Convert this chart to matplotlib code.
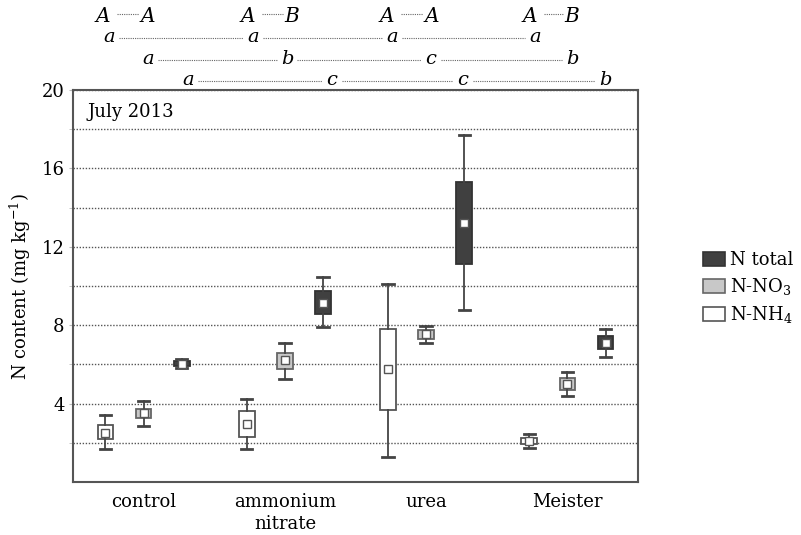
import numpy as np
import matplotlib
matplotlib.use("Agg")
import matplotlib.pyplot as plt
from matplotlib.patches import Patch

plt.rcParams["font.family"] = ["DejaVu Serif"]
plt.rcParams["mathtext.fontset"] = "dejavuserif"

# data
groups = ["control", "ammonium\nnitrate", "urea", "Meister"]
series = ["N-NH$_4$", "N-NO$_3$", "N total"]

nh4_low = [1.7, 1.7, 1.3, 1.75]
nh4_q1 = [2.2, 2.3, 3.65, 1.93]
nh4_mean = [2.5, 2.95, 5.75, 2.1]
nh4_q3 = [2.9, 3.6, 7.8, 2.27]
nh4_high = [3.4, 4.25, 10.1, 2.45]

no3_low = [2.85, 5.25, 7.1, 4.4]
no3_q1 = [3.25, 5.75, 7.3, 4.7]
no3_mean = [3.5, 6.2, 7.55, 5.0]
no3_q3 = [3.7, 6.6, 7.75, 5.3]
no3_high = [4.15, 7.1, 7.95, 5.6]

tot_low = [5.8, 7.9, 8.8, 6.4]
tot_q1 = [5.9, 8.55, 11.1, 6.8]
tot_mean = [6.0, 9.15, 13.2, 7.1]
tot_q3 = [6.15, 9.75, 15.3, 7.45]
tot_high = [6.3, 10.45, 17.7, 7.8]

# significance letters above the plot
row1_letters = [["A", "A"], ["A", "B"], ["A", "A"], ["A", "B"]]
row2_letters = ["a", "a", "a", "a"]
row3_letters = ["a", "b", "c", "b"]
row4_letters = ["a", "c", "c", "b"]

W, H = 801, 535
fig = plt.figure(figsize=(W / 100, H / 100), dpi=100)
ax = fig.add_axes([73 / W, 1 - 482 / H, (638 - 73) / W, (482 - 90) / H])

fills = ["white", "#c8c8c8", "#404040"]
edges = ["#555555", "#666666", "#333333"]
offsets = [-0.27, 0.0, 0.27]
lows = [nh4_low, no3_low, tot_low]
q1s = [nh4_q1, no3_q1, tot_q1]
means = [nh4_mean, no3_mean, tot_mean]
q3s = [nh4_q3, no3_q3, tot_q3]
highs = [nh4_high, no3_high, tot_high]

for k in range(3):
    stats = []
    for i in range(len(groups)):
        stats.append({"whislo": lows[k][i], "q1": q1s[k][i], "med": means[k][i],
                      "q3": q3s[k][i], "whishi": highs[k][i], "mean": means[k][i],
                      "fliers": []})
    pos = np.arange(len(groups)) + offsets[k]
    ax.bxp(stats, positions=pos, widths=0.11, patch_artist=True, showmeans=True,
           showfliers=False, manage_ticks=False,
           boxprops=dict(facecolor=fills[k], edgecolor=edges[k], linewidth=1.3),
           whiskerprops=dict(color="#444444", linewidth=1.3),
           capprops=dict(color="#444444", linewidth=2.0),
           capwidths=0.08,
           medianprops=dict(linewidth=0),
           meanprops=dict(marker="s", markersize=5.5, markerfacecolor="white",
                          markeredgecolor="#555555", markeredgewidth=1.0),
           zorder=3)

ax.set_xlim(-0.5, 3.5)
ax.set_ylim(0, 20)
ax.set_yticks([4, 8, 12, 16, 20])
ax.set_yticks([2, 6, 10, 14, 18], minor=True)
ax.yaxis.grid(True, which="both", linestyle=(0, (1, 1.2)), color="#555555", linewidth=1.0)
ax.set_axisbelow(True)
ax.tick_params(axis="y", which="both", length=3, color="#bbbbbb", labelsize=13, pad=3)
ax.set_xticks(np.arange(len(groups)))
ax.set_xticklabels(groups, fontsize=13, linespacing=1.3)
ax.tick_params(axis="x", length=0, pad=8)
for s in ax.spines.values():
    s.set_color("#555555")
    s.set_linewidth(1.5)
ax.set_ylabel("N content (mg kg$^{-1}$)", fontsize=13, labelpad=6)
ax.text((87 - 73) / 565, 1 - (112 - 90) / 392, "July 2013", transform=ax.transAxes,
        fontsize=13, va="center", ha="left")

handles = [Patch(facecolor=fills[k], edgecolor=edges[k], linewidth=1.2) for k in [2, 1, 0]]
labels = [series[k] for k in [2, 1, 0]]
fig.legend(handles, labels, loc="upper left", bbox_to_anchor=(703 / W, 1 - 251 / H),
           frameon=False, fontsize=13, handlelength=1.2, handleheight=0.85,
           handletextpad=0.3, labelspacing=0.4, borderpad=0, borderaxespad=0)

# letters rows (pixel positions from the figure)
def fx(px):
    return px / W

def fy(py):
    return 1 - py / H

row1_x = [[103, 148], [248, 292], [387, 432], [530, 572]]
row2_x = [109, 253, 392, 535]
row3_x = [148, 287, 431, 572]
row4_x = [188, 332, 463, 605]
dot = dict(color="#666666", linestyle=(0, (1, 1)), linewidth=0.8)

for pair, xs in zip(row1_letters, row1_x):
    for t, x in zip(pair, xs):
        fig.text(fx(x), fy(17), t, fontsize=14.5, style="italic", ha="center", va="center")
    fig.add_artist(plt.Line2D([fx(xs[0] + 14), fx(xs[1] - 9)], [fy(14), fy(14)], **dot))

for letters, xs, yy in [(row2_letters, row2_x, 37), (row3_letters, row3_x, 59),
                        (row4_letters, row4_x, 80)]:
    for t, x in zip(letters, xs):
        fig.text(fx(x), fy(yy), t, fontsize=14, style="italic", ha="center", va="center")
    for a, b in zip(xs[:-1], xs[1:]):
        fig.add_artist(plt.Line2D([fx(a + 10), fx(b - 10)], [fy(yy + 1), fy(yy + 1)], **dot))

fig.savefig("out.png", dpi=100)
